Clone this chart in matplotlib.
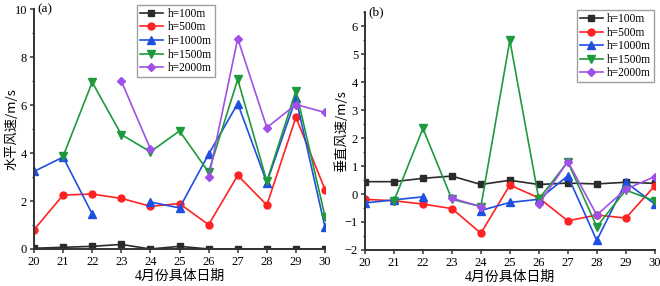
import numpy as np
from matplotlib import pyplot as plt
from matplotlib.ticker import MultipleLocator

nan = np.nan

# Dates (April)
days = [20, 21, 22, 23, 24, 25, 26, 27, 28, 29, 30]
labels = ['h=100m', 'h=500m', 'h=1000m', 'h=1500m', 'h=2000m']

# (a) horizontal wind speed
hor_100 = [0.03, 0.07, 0.11, 0.19, 0.0, 0.11, 0.0, 0.0, 0.0, 0.0, 0.0]
hor_500 = [0.8, 2.25, 2.29, 2.11, 1.78, 1.89, 1.01, 3.07, 1.83, 5.49, 2.47]
hor_1000 = [3.23, 3.83, 1.46, nan, 1.96, 1.71, 3.95, 6.06, 2.77, 6.28, 0.9]
hor_1500 = [nan, 3.86, 6.95, 4.77, 4.05, 4.92, 3.2, 7.07, 2.82, 6.6, 1.35]
hor_2000 = [nan, nan, nan, 7.0, 4.17, nan, 2.98, 8.77, 5.06, 6.02, 5.69]

# (b) vertical wind speed
ver_100 = [0.44, 0.44, 0.56, 0.64, 0.34, 0.49, 0.34, 0.39, 0.36, 0.42, 0.38]
ver_500 = [-0.19, -0.24, -0.36, -0.52, -1.4, 0.32, -0.14, -0.96, -0.75, -0.86, 0.29]
ver_1000 = [-0.32, -0.21, -0.1, nan, -0.59, -0.3, -0.19, 0.65, -1.66, 0.42, -0.36]
ver_1500 = [nan, -0.25, 2.34, -0.19, -0.45, 5.49, -0.18, 1.15, -1.17, 0.14, -0.25]
ver_2000 = [nan, nan, nan, -0.15, -0.45, nan, -0.36, 1.16, -0.75, 0.17, 0.62]

colors = ['#2a2a2a', '#ff2222', '#1f4fe0', '#1e9a3c', '#a050e6']
markers = ['s', 'o', '^', 'v', 'D']
msizes = [4, 5, 5.5, 5.5, 4.5]

serif = ['Liberation Serif', 'Noto Sans CJK SC']
cjk = ['Noto Sans CJK SC', 'DejaVu Sans']

fig = plt.figure(figsize=(6.6, 2.86), dpi=100)
ax1 = fig.add_axes([0.0515, 0.1294, 0.441, 0.839])
ax2 = fig.add_axes([0.553, 0.1259, 0.439, 0.832])


def draw(ax, series, ylim, ylabel, tag, major, minor, legend_anchor, ylx):
    for ys, c, m, ms, lab in zip(series, colors, markers, msizes, labels):
        ax.plot(days, ys, color=c, marker=m, markersize=ms, lw=1.2, label=lab)
    ax.set_xlim(20, 30)
    ax.set_ylim(*ylim)
    ax.set_xticks(days)
    ax.yaxis.set_major_locator(MultipleLocator(major))
    ax.yaxis.set_minor_locator(MultipleLocator(minor))
    for s in ['top', 'right']:
        ax.spines[s].set_visible(False)
    for s in ['left', 'bottom']:
        ax.spines[s].set_linewidth(1.4)
        ax.spines[s].set_color('#333333')
    ax.tick_params(which='major', direction='out', length=3, width=1.1,
                   color='#333333', labelsize=9, pad=2)
    ax.tick_params(which='minor', direction='out', length=1.8, width=0.9,
                   color='#333333')
    for t in ax.get_xticklabels() + ax.get_yticklabels():
        t.set_family(serif)
    ax.set_xlabel('4月份具体日期', family=serif, fontsize=10, labelpad=1)
    ax.set_ylabel(ylabel, family=cjk, fontsize=9.5)
    ax.yaxis.set_label_coords(ylx, 0.5)
    ax.text(0.01, 1.0, tag, transform=ax.transAxes, family=serif,
            fontsize=9.5, va='center', ha='left')
    leg = ax.legend(loc='upper left', bbox_to_anchor=legend_anchor,
                    prop={'family': serif, 'size': 8.3}, fancybox=False,
                    handlelength=2.0, borderpad=0.25, labelspacing=0.14,
                    handletextpad=0.4, borderaxespad=0)
    leg.get_frame().set_edgecolor('#888888')
    leg.get_frame().set_linewidth(1.0)


draw(ax1, [hor_100, hor_500, hor_1000, hor_1500, hor_2000], (0, 10),
     '水平风速/m/s', '(a)', 2, 1, (0.354, 1.017), -0.052)
draw(ax2, [ver_100, ver_500, ver_1000, ver_1500, ver_2000], (-2, 6.5),
     '垂直风速/m/s', '(b)', 1, 0.5, (0.731, 1.008), -0.059)

plt.savefig('out.png')
